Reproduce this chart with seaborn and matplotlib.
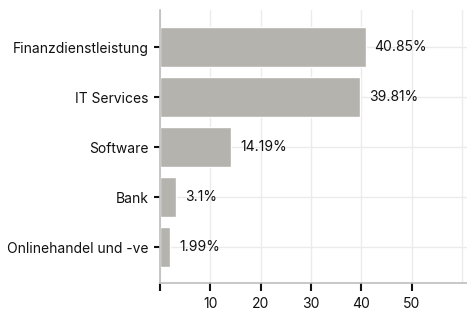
import matplotlib
matplotlib.use("Agg")
import matplotlib.pyplot as plt
import pandas as pd
import seaborn as sns

categories = ["Finanzdienstleistung", "IT Services", "Software", "Bank", "Onlinehandel und -ve"]
values = [40.85, 39.81, 14.19, 3.1, 1.99]
value_labels = ["40.85%", "39.81%", "14.19%", "3.1%", "1.99%"]

df = pd.DataFrame({"category": categories, "value": values})

sns.set_style("white")
plt.rcParams["font.family"] = ["Inter", "DejaVu Sans"]

fig = plt.figure(figsize=(4.67, 3.15), dpi=100)
ax = fig.add_axes([160 / 467, 1 - 283 / 315, 1 - 160 / 467, (283 - 10) / 315])

sns.barplot(data=df, x="value", y="category", color="#b4b3ae", saturation=1,
            width=0.8, ax=ax, zorder=2)

for i, (v, lab) in enumerate(zip(values, value_labels)):
    ax.annotate(lab, (v, i), xytext=(6.5, 0), textcoords="offset points",
                va="center", ha="left", fontsize=10, color="#111111")

ax.set_xlim(0, 61)
ax.set_ylim(4.72, -0.74)
ax.set_xticks([0, 10, 20, 30, 40, 50, 60])
ax.set_xticklabels(["", "10", "20", "30", "40", "50", ""])
ax.grid(True, color="#ebebeb", linewidth=1, zorder=0)
ax.set_axisbelow(True)
ax.set_xlabel("")
ax.set_ylabel("")

for side in ["top", "right"]:
    ax.spines[side].set_visible(False)
for side in ["left", "bottom"]:
    ax.spines[side].set_color("#bdbdbd")
    ax.spines[side].set_linewidth(1.2)

ax.tick_params(axis="x", length=6, width=1.5, color="#111111", labelsize=10,
               labelcolor="#111111", pad=4, bottom=True)
ax.tick_params(axis="y", length=4, width=1.5, color="#111111", labelsize=10,
               labelcolor="#111111", pad=4, left=True)
# no tick mark at 60
ax.xaxis.get_major_ticks()[-1].tick1line.set_visible(False)

fig.savefig("out.png", dpi=100)
